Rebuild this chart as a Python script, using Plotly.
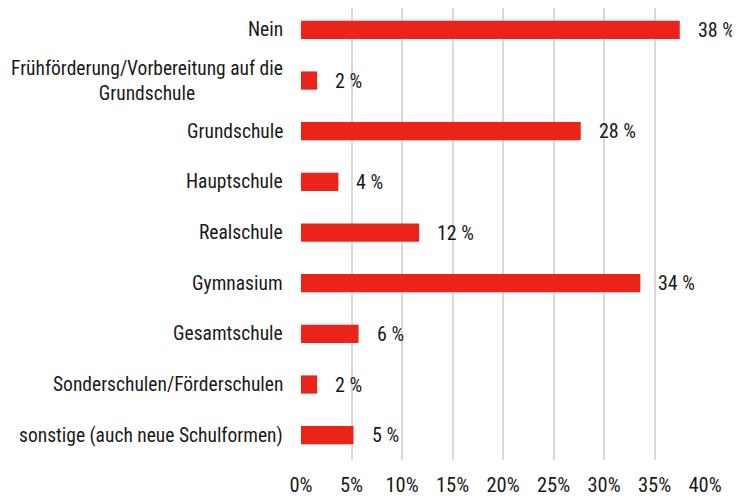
import plotly.graph_objects as go

categories = [
    "Nein",
    "Frühförderung/Vorbereitung auf die<br>Grundschule",
    "Grundschule",
    "Hauptschule",
    "Realschule",
    "Gymnasium",
    "Gesamtschule",
    "Sonderschulen/Förderschulen",
    "sonstige (auch neue Schulformen)",
]
values = [37.5, 1.6, 27.7, 3.7, 11.7, 33.6, 5.7, 1.6, 5.2]
value_labels = ["38 %", "2 %", "28 %", "4 %", "12 %", "34 %", "6 %", "2 %", "5 %"]
tick_vals = [0, 5, 10, 15, 20, 25, 30, 35, 40]
tick_text = ["0%", "5%", "10%", "15%", "20%", "25%", "30%", "35%", "40%"]

FONT = "Liberation Sans Narrow, Arial Narrow, Roboto Condensed, Liberation Sans, sans-serif"
TXT = "#1a1a1a"
BAR = "#ec2319"

fig = go.Figure()
fig.add_trace(go.Bar(
    x=values, y=categories, orientation="h",
    marker=dict(color=BAR, line=dict(width=0)),
    hoverinfo="skip",
))

annotations = []
for c, v, t in zip(categories, values, value_labels):
    annotations.append(dict(x=v, y=c, xref="x", yref="y", text=t, showarrow=False,
                            xanchor="left", xshift=16, font=dict(family=FONT, size=20, color=TXT)))
    annotations.append(dict(x=0, y=c, xref="paper", yref="y", text=c, showarrow=False,
                            xanchor="right", align="center", xshift=-16,
                            font=dict(family=FONT, size=19.5, color=TXT)))

fig.update_layout(
    width=732, height=489,
    margin=dict(l=293, r=35, t=0, b=35),
    paper_bgcolor="white", plot_bgcolor="white",
    bargap=0.64,
    showlegend=False,
    font=dict(family=FONT, size=20, color=TXT),
    annotations=annotations,
    xaxis=dict(range=[0, 40], tickvals=tick_vals, ticktext=tick_text,
               showgrid=True, gridcolor="#d9d9d9", gridwidth=1.5,
               zeroline=False, showline=False, ticks="", ticklabelstandoff=10,
               tickfont=dict(family=FONT, size=20.5, color=TXT)),
    yaxis=dict(range=[8.49, -0.432], showticklabels=False, showgrid=False,
               zeroline=False, showline=False, ticks=""),
)

fig.write_html("out.html")
